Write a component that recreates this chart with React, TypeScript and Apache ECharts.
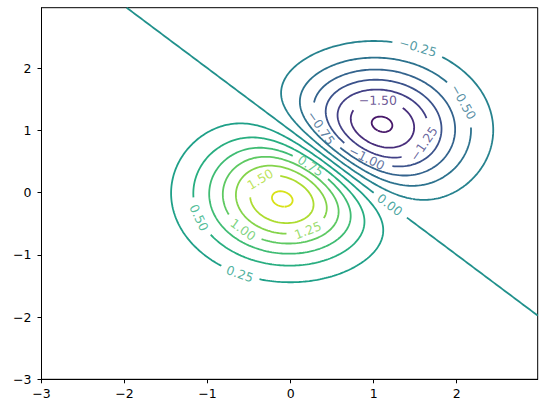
import React, { useEffect, useRef } from "react";
import * as echarts from "echarts";

// ---- data ----
const X_RANGE = [-3, 2.975];
const Y_RANGE = [-3, 2.975];
const STEP = 0.025;
const TICKS = [-3, -2, -1, 0, 1, 2];
const LEVELS = [-1.75, -1.5, -1.25, -1, -0.75, -0.5, -0.25, 0, 0.25, 0.5, 0.75, 1, 1.25, 1.5, 1.75];
// field: Z = AMPLITUDE * (gaussian at POS_CENTER - gaussian at NEG_CENTER)
const POS_CENTER = [0, 0];
const NEG_CENTER = [1, 1];
const AMPLITUDE = 2;
// inline contour labels (approximate anchors, snapped onto the contour)
const LABEL_LEVELS = [-0.25, -0.5, -1.5, -0.75, -1.0, -1.25, 0.75, 0, 1.5, 1.0, 1.25, 0.5, 0.25];
const LABEL_X = [1.53, 2.08, 1.05, 0.38, 0.92, 1.58, 0.23, 1.2, -0.37, -0.57, 0.2, -1.1, -0.61];
const LABEL_Y = [2.33, 1.46, 1.49, 1.05, 0.56, 0.8, 0.42, -0.19, 0.22, -0.59, -0.59, -0.4, -1.3];

// ---- styles ----
const LEVEL_COLORS = [
  "#48186a", "#472d7b", "#424086", "#3b528b", "#33638d", "#2c728e", "#26828e", "#21918c",
  "#1fa088", "#28ae80", "#3fbc73", "#5ec962", "#84d44b", "#addc30", "#d8e219",
];
const W = 546;
const H = 413;
const GRID = { left: 41.5, right: 8.3, top: 7.7, bottom: 33.7 };
const FONT = '"DejaVu Sans", sans-serif';
const FONT_SIZE = 12.5;
const SX = (W - GRID.left - GRID.right) / (X_RANGE[1] - X_RANGE[0]);
const SY = (H - GRID.top - GRID.bottom) / (Y_RANGE[1] - Y_RANGE[0]);

function field(x: number, y: number): number {
  const a = Math.exp(-((x - POS_CENTER[0]) ** 2 + (y - POS_CENTER[1]) ** 2));
  const b = Math.exp(-((x - NEG_CENTER[0]) ** 2 + (y - NEG_CENTER[1]) ** 2));
  return AMPLITUDE * (a - b);
}
function grad(x: number, y: number): [number, number] {
  const a = Math.exp(-((x - POS_CENTER[0]) ** 2 + (y - POS_CENTER[1]) ** 2));
  const b = Math.exp(-((x - NEG_CENTER[0]) ** 2 + (y - NEG_CENTER[1]) ** 2));
  const gx = AMPLITUDE * (-2 * (x - POS_CENTER[0]) * a + 2 * (x - NEG_CENTER[0]) * b);
  const gy = AMPLITUDE * (-2 * (y - POS_CENTER[1]) * a + 2 * (y - NEG_CENTER[1]) * b);
  return [gx, gy];
}

const fmtLevel = (v: number) => v.toFixed(2).replace("-", "\u2212");
const fmtTick = (v: number) => String(v).replace("-", "\u2212");

const CASES: Record<number, number[][]> = {
  1: [[3, 0]], 2: [[0, 1]], 3: [[3, 1]], 4: [[1, 2]], 5: [[3, 0], [1, 2]], 6: [[0, 2]], 7: [[3, 2]],
  8: [[2, 3]], 9: [[0, 2]], 10: [[0, 1], [2, 3]], 11: [[1, 2]], 12: [[1, 3]], 13: [[0, 1]], 14: [[0, 3]],
};

function traceLevel(z: number[][], xs: number[], ys: number[], level: number): [number, number][][] {
  const pts = new Map<string, [number, number]>();
  const adj = new Map<string, string[]>();
  const pt = (key: string, x1: number, y1: number, z1: number, x2: number, y2: number, z2: number) => {
    if (!pts.has(key)) {
      const t = (level - z1) / (z2 - z1);
      pts.set(key, [x1 + t * (x2 - x1), y1 + t * (y2 - y1)]);
    }
    return key;
  };
  const link = (a: string, b: string) => {
    if (!adj.has(a)) adj.set(a, []);
    if (!adj.has(b)) adj.set(b, []);
    adj.get(a)!.push(b);
    adj.get(b)!.push(a);
  };
  for (let j = 0; j < ys.length - 1; j++) {
    for (let i = 0; i < xs.length - 1; i++) {
      const za = z[j][i], zb = z[j][i + 1], zc = z[j + 1][i + 1], zd = z[j + 1][i];
      const code = (za > level ? 1 : 0) | (zb > level ? 2 : 0) | (zc > level ? 4 : 0) | (zd > level ? 8 : 0);
      if (code === 0 || code === 15) continue;
      const e = (k: number) => {
        if (k === 0) return pt("h" + i + "_" + j, xs[i], ys[j], za, xs[i + 1], ys[j], zb);
        if (k === 1) return pt("v" + (i + 1) + "_" + j, xs[i + 1], ys[j], zb, xs[i + 1], ys[j + 1], zc);
        if (k === 2) return pt("h" + i + "_" + (j + 1), xs[i], ys[j + 1], zd, xs[i + 1], ys[j + 1], zc);
        return pt("v" + i + "_" + j, xs[i], ys[j], za, xs[i], ys[j + 1], zd);
      };
      for (const [p, q] of CASES[code]) link(e(p), e(q));
    }
  }
  const lines: [number, number][][] = [];
  const walk = (start: string) => {
    const out: string[] = [];
    let cur = start;
    while (adj.get(cur)!.length) {
      const nxt = adj.get(cur)!.pop()!;
      const arr = adj.get(nxt)!;
      const idx = arr.indexOf(cur);
      if (idx >= 0) arr.splice(idx, 1);
      out.push(nxt);
      cur = nxt;
    }
    return out;
  };
  for (const start of adj.keys()) {
    while (adj.get(start)!.length) {
      const fwd = walk(start);
      const back = walk(start);
      const keys = [...back.reverse(), start, ...fwd];
      lines.push(keys.map((k) => pts.get(k)!));
    }
  }
  return lines;
}

function measure(text: string): number {
  const ctx = document.createElement("canvas").getContext("2d");
  if (!ctx) return text.length * 7;
  ctx.font = `${FONT_SIZE}px ${FONT}`;
  return ctx.measureText(text).width;
}

export default function App() {
  const ref = useRef<HTMLDivElement>(null);
  useEffect(() => {
    if (!ref.current) return;
    const chart = echarts.init(ref.current, undefined, { renderer: "svg" });

    const n = Math.round((X_RANGE[1] - X_RANGE[0]) / STEP) + 1;
    const m = Math.round((Y_RANGE[1] - Y_RANGE[0]) / STEP) + 1;
    const xs = Array.from({ length: n }, (_, i) => X_RANGE[0] + i * STEP);
    const ys = Array.from({ length: m }, (_, j) => Y_RANGE[0] + j * STEP);
    const z = ys.map((y) => xs.map((x) => field(x, y)));

    // labels: snap onto contour, rotation along tangent in pixel space
    const labels = LABEL_LEVELS.map((lv, k) => {
      let x = LABEL_X[k], y = LABEL_Y[k];
      for (let it = 0; it < 10; it++) {
        const d = field(x, y) - lv;
        const [gx, gy] = grad(x, y);
        const g2 = gx * gx + gy * gy;
        if (g2 < 1e-12) break;
        x -= (d * gx) / g2;
        y -= (d * gy) / g2;
      }
      const [gx, gy] = grad(x, y);
      let ang = (Math.atan2(gx * SY, -gy * SX) * 180) / Math.PI;
      if (ang > 90) ang -= 180;
      if (ang <= -90) ang += 180;
      const text = fmtLevel(lv);
      const r = measure(text) / 2 + 6;
      return { lv, x, y, ang, text, r };
    });

    const lineSeries = LEVELS.map((lv, li) => {
      const lines = traceLevel(z, xs, ys, lv);
      const myLabels = labels.filter((l) => Math.abs(l.lv - lv) < 1e-9);
      const data: number[][] = [];
      for (const line of lines) {
        let prevIn = true;
        for (const [x, y] of line) {
          const hidden = myLabels.some((l) => Math.hypot((x - l.x) * SX, (y - l.y) * SY) < l.r);
          if (hidden) {
            if (!prevIn) data.push([NaN, NaN]);
            prevIn = true;
            continue;
          }
          data.push([x, y]);
          prevIn = false;
        }
        data.push([NaN, NaN]);
      }
      return {
        type: "line" as const,
        data,
        showSymbol: false,
        symbol: "none",
        connectNulls: false,
        silent: true,
        clip: true,
        z: 2,
        lineStyle: { color: LEVEL_COLORS[li], width: 1.8 },
        itemStyle: { color: LEVEL_COLORS[li] },
      };
    });

    const labelSeries = {
      type: "scatter" as const,
      silent: true,
      z: 3,
      symbolSize: 1,
      itemStyle: { color: "rgba(0,0,0,0)" },
      data: labels.map((l) => ({
        value: [l.x, l.y],
        label: {
          show: true,
          position: "inside",
          formatter: l.text,
          rotate: l.ang,
          color: LEVEL_COLORS[LEVELS.findIndex((v) => Math.abs(v - l.lv) < 1e-9)],
          fontSize: FONT_SIZE,
          fontFamily: FONT,
          align: "center",
          verticalAlign: "middle",
        },
      })),
    };

    const axisCommon = {
      type: "value" as const,
      interval: 1,
      axisLine: { show: true, onZero: false, lineStyle: { color: "#000", width: 1 } },
      axisTick: { show: true, inside: false, length: 4, customValues: TICKS, lineStyle: { color: "#000", width: 1 } },
      splitLine: { show: false },
    };

    chart.setOption({
      animation: false,
      backgroundColor: "#fff",
      grid: { ...GRID, show: true, borderColor: "#000", borderWidth: 1, backgroundColor: "transparent" },
      xAxis: {
        ...axisCommon,
        min: X_RANGE[0],
        max: X_RANGE[1],
        axisLabel: { customValues: TICKS, formatter: fmtTick, color: "#000", fontSize: FONT_SIZE, fontFamily: FONT, margin: 8 },
      },
      yAxis: {
        ...axisCommon,
        min: Y_RANGE[0],
        max: Y_RANGE[1],
        axisLabel: { customValues: TICKS, formatter: fmtTick, color: "#000", fontSize: FONT_SIZE, fontFamily: FONT, margin: 10 },
      },
      series: [...lineSeries, labelSeries],
    });
    return () => chart.dispose();
  }, []);
  return <div ref={ref} style={{ position: "fixed", left: 0, top: 0, width: W, height: H }} />;
}
